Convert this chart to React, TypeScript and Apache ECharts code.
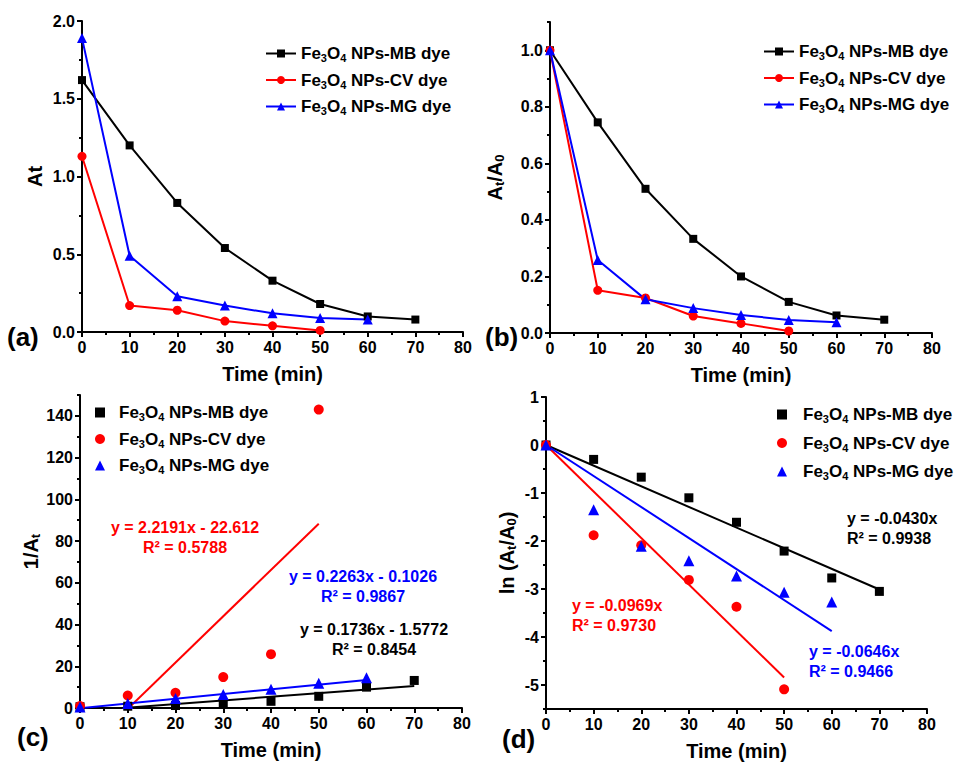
import React, { useEffect, useRef } from 'react';
import * as echarts from 'echarts';

const FONT = '"Liberation Sans", Arial, Helvetica, sans-serif';

// Time axes (min)
const tMB = [0, 10, 20, 30, 40, 50, 60, 70];
const tCV = [0, 10, 20, 30, 40, 50];
const tMG = [0, 10, 20, 30, 40, 50, 60];

// (a) absorbance At
const atMB = [1.62, 1.2, 0.83, 0.54, 0.33, 0.18, 0.1, 0.08];
const atCV = [1.13, 0.17, 0.14, 0.07, 0.04, 0.01];
const atMG = [1.89, 0.49, 0.23, 0.17, 0.12, 0.09, 0.08];

// (b) At/A0
const ratioMB = [1.0, 0.745, 0.51, 0.333, 0.2, 0.11, 0.062, 0.047];
const ratioCV = [1.0, 0.151, 0.124, 0.06, 0.034, 0.007];
const ratioMG = [1.0, 0.258, 0.119, 0.088, 0.064, 0.046, 0.038];

// (c) 1/At
const invMB = [0.6, 0.85, 1.2, 1.9, 3.2, 5.6, 10.0, 13.2];
const invCV = [0.9, 6.0, 7.3, 14.8, 25.8, 143.0];
const invMG = [0.53, 2.2, 4.6, 6.5, 9.0, 11.9, 14.5];

// (d) ln(At/A0)
const lnMB = [0, -0.3, -0.67, -1.1, -1.61, -2.21, -2.77, -3.05];
const lnCV = [0, -1.88, -2.09, -2.81, -3.37, -5.09];
const lnMG = [0, -1.35, -2.11, -2.41, -2.73, -3.07, -3.27];

// linear fits: [MB, CV, MG]
const fitCSlope = [0.1736, 2.2191, 0.2263];
const fitCIntercept = [-1.5772, -22.612, -0.1026];
const fitDSlope = [-0.043, -0.0969, -0.0646];
const fitRangeEnd = [70, 50, 60];

const fitCText = [
  ['y = 0.1736x - 1.5772', 'R² = 0.8454'],
  ['y = 2.2191x - 22.612', 'R² = 0.5788'],
  ['y = 0.2263x - 0.1026', 'R² = 0.9867'],
];
const fitDText = [
  ['y = -0.0430x', 'R² = 0.9938'],
  ['y = -0.0969x', 'R² = 0.9730'],
  ['y = -0.0646x', 'R² = 0.9466'],
];

const dyeKeys = ['MB', 'CV', 'MG'];
const colors = ['#000000', '#ff0000', '#0000ff'];
const symbols = ['rect', 'circle', 'triangle'];
const symbolSizes = [8, 9, 10];

const grids = [
  { left: 82, top: 21, width: 381, height: 311 },
  { left: 550, top: 22, width: 382, height: 311 },
  { left: 80, top: 395, width: 382, height: 313 },
  { left: 546, top: 397, width: 381, height: 313 },
];

const richText = (color: string, size: number, gap = 0) => ({
  g: { width: gap, fontSize: size, lineHeight: size + 3 },
  n: { fontSize: size, fontWeight: 'bold', fontFamily: FONT, color, lineHeight: size + 3 },
  s: {
    fontSize: Math.round(size * 0.65),
    fontWeight: 'bold',
    fontFamily: FONT,
    color,
    lineHeight: 8,
    verticalAlign: 'bottom',
  },
});

export default function App() {
  const ref = useRef<HTMLDivElement>(null);

  useEffect(() => {
    if (!ref.current) return;
    const chart = echarts.init(ref.current, undefined, { renderer: 'svg' });

    const labelStyle = {
      fontSize: 16,
      fontWeight: 'bold',
      color: '#000',
      fontFamily: FONT,
    };
    const lineStyle = { color: '#000', width: 2 };

    const xAxes: any[] = [];
    const yAxes: any[] = [];
    const yCfg = [
      { min: 0, max: 2, major: [0, 0.5, 1, 1.5, 2], minor: 0.25, fmt: (v: number) => v.toFixed(1),
        name: '{n|At}', gap: 36 },
      { min: 0, max: 1.1, major: [0, 0.2, 0.4, 0.6, 0.8, 1.0], minor: 0.1, fmt: (v: number) => v.toFixed(1),
        name: '{n|A}{s|t}{n|/A}{s|0}', gap: 44 },
      { min: 0, max: 150, major: [0, 20, 40, 60, 80, 100, 120, 140], minor: 10, fmt: (v: number) => String(v),
        name: '{n|1/A}{s|t}', gap: 36 },
      { min: -5.5, max: 1, major: [-5, -4, -3, -2, -1, 0, 1], minor: 0.5, fmt: (v: number) => String(v),
        name: '{n|ln (A}{s|t}{n|/A}{s|0}{n|)}', gap: 28 },
    ];
    const xMajor = [0, 10, 20, 30, 40, 50, 60, 70, 80];

    grids.forEach((_, gi) => {
      xAxes.push({
        type: 'value',
        gridIndex: gi,
        position: 'bottom',
        min: 0,
        max: 80,
        interval: 10,
        axisLine: { show: true, onZero: false, lineStyle },
        axisTick: { show: true, inside: false, length: 5, lineStyle, customValues: xMajor },
        axisLabel: { ...labelStyle, margin: 7, customValues: xMajor },
        splitLine: { show: false },
        name: 'Time (min)',
        nameLocation: 'middle',
        nameGap: 32,
        nameTextStyle: { fontSize: 20, fontWeight: 'bold', color: '#000', fontFamily: FONT },
      });
      xAxes.push({
        type: 'value',
        gridIndex: gi,
        position: 'bottom',
        min: 0,
        max: 80,
        interval: 5,
        axisLine: { show: false, onZero: false },
        axisTick: { show: true, inside: false, length: 3, lineStyle },
        axisLabel: { show: false },
        splitLine: { show: false },
      });
      const yc = yCfg[gi];
      yAxes.push({
        type: 'value',
        gridIndex: gi,
        position: 'left',
        min: yc.min,
        max: yc.max,
        axisLine: { show: true, onZero: false, lineStyle },
        axisTick: { show: true, inside: false, length: 5, lineStyle, customValues: yc.major },
        axisLabel: { ...labelStyle, margin: 7, customValues: yc.major, formatter: yc.fmt },
        splitLine: { show: false },
        name: yc.name,
        nameLocation: 'middle',
        nameGap: yc.gap,
        nameTextStyle: { rich: richText('#000', 20) },
      });
      yAxes.push({
        type: 'value',
        gridIndex: gi,
        position: 'left',
        min: yc.min,
        max: yc.max,
        interval: yc.minor,
        axisLine: { show: false, onZero: false },
        axisTick: { show: true, inside: false, length: 3, lineStyle },
        axisLabel: { show: false },
        splitLine: { show: false },
      });
    });

    const series: any[] = [];
    const times = [tMB, tCV, tMG];
    const panelData = [
      [atMB, atCV, atMG],
      [ratioMB, ratioCV, ratioMG],
      [invMB, invCV, invMG],
      [lnMB, lnCV, lnMG],
    ];
    const panelNames = ['a', 'b', 'c', 'd'];

    panelData.forEach((sets, pi) => {
      sets.forEach((vals, di) => {
        const isLine = pi < 2;
        series.push({
          name: `${panelNames[pi]}-${dyeKeys[di]}`,
          type: isLine ? 'line' : 'scatter',
          xAxisIndex: pi * 2,
          yAxisIndex: pi * 2,
          data: vals.map((v, i) => [times[di][i], v]),
          symbol: symbols[di],
          symbolSize: isLine ? symbolSizes[di] : symbolSizes[di] + 1,
          showSymbol: true,
          itemStyle: { color: colors[di], opacity: 1 },
          lineStyle: { color: colors[di], width: 2 },
          z: 3,
        });
      });
    });

    // fit lines for (c) and (d)
    dyeKeys.forEach((k, di) => {
      const end = fitRangeEnd[di];
      series.push({
        name: `fitc-${k}`,
        type: 'line',
        xAxisIndex: 4,
        yAxisIndex: 4,
        data: [
          [0, fitCIntercept[di]],
          [end, fitCSlope[di] * end + fitCIntercept[di]],
        ],
        showSymbol: false,
        symbol: 'none',
        clip: true,
        lineStyle: { color: colors[di], width: 2 },
        z: 2,
      });
      series.push({
        name: `fitd-${k}`,
        type: 'line',
        xAxisIndex: 6,
        yAxisIndex: 6,
        data: [
          [0, 0],
          [end, fitDSlope[di] * end],
        ],
        showSymbol: false,
        symbol: 'none',
        clip: true,
        lineStyle: { color: colors[di], width: 2 },
        z: 2,
      });
    });

    const legendPos = [
      { left: 265, top: 45, itemGap: 8, w: 30, h: 10, gap: 0 },
      { left: 763, top: 43, itemGap: 8, w: 30, h: 10, gap: 0 },
      { left: 95, top: 404, itemGap: 8, w: 10, h: 10, gap: 9 },
      { left: 777, top: 406, itemGap: 10, w: 10, h: 10, gap: 11 },
    ];
    const legends = legendPos.map((lp, pi) => ({
      orient: 'vertical',
      left: lp.left,
      top: lp.top,
      itemGap: lp.itemGap,
      itemWidth: lp.w,
      itemHeight: lp.h,
      padding: 0,
      selectedMode: false,
      data: dyeKeys.map((k) => `${panelNames[pi]}-${k}`),
      formatter: (name: string) => {
        const key = name.split('-')[1];
        const pre = lp.gap > 0 ? '{g|}' : '';
        return `${pre}{n|Fe}{s|3}{n|O}{s|4}{n| NPs-${key} dye}`;
      },
      textStyle: { rich: richText('#000', 17, lp.gap) },
    }));

    const txt = (text: string, x: number, y: number, color: string, size: number, align = 'center') => ({
      type: 'text',
      x,
      y,
      style: {
        text,
        fill: color,
        fontSize: size,
        fontWeight: 'bold',
        fontFamily: FONT,
        textAlign: align,
        textVerticalAlign: 'middle',
      },
    });

    const graphics: any[] = [
      txt('(a)', 7, 337, '#000', 26, 'left'),
      txt('(b)', 485, 337, '#000', 26, 'left'),
      txt('(c)', 17, 737, '#000', 26, 'left'),
      txt('(d)', 502, 739, '#000', 26, 'left'),
      // (c) fits
      txt(fitCText[1][0], 185, 527, colors[1], 16),
      txt(fitCText[1][1], 185, 547, colors[1], 16),
      txt(fitCText[2][0], 363, 576, colors[2], 16),
      txt(fitCText[2][1], 363, 596, colors[2], 16),
      txt(fitCText[0][0], 374, 629, colors[0], 16),
      txt(fitCText[0][1], 374, 649, colors[0], 16),
      // (d) fits
      txt(fitDText[0][0], 847, 518, colors[0], 16, 'left'),
      txt(fitDText[0][1], 847, 538, colors[0], 16, 'left'),
      txt(fitDText[1][0], 572, 605, colors[1], 16, 'left'),
      txt(fitDText[1][1], 572, 625, colors[1], 16, 'left'),
      txt(fitDText[2][0], 809, 651, colors[2], 16, 'left'),
      txt(fitDText[2][1], 809, 671, colors[2], 16, 'left'),
    ];

    chart.setOption({
      animation: false,
      backgroundColor: '#ffffff',
      grid: grids.map((g) => ({ ...g, containLabel: false })),
      xAxis: xAxes,
      yAxis: yAxes,
      legend: legends,
      series,
      graphic: graphics,
    });

    return () => chart.dispose();
  }, []);

  return (
    <div
      ref={ref}
      style={{ position: 'fixed', left: 0, top: 0, width: 968, height: 762, background: '#fff' }}
    />
  );
}
